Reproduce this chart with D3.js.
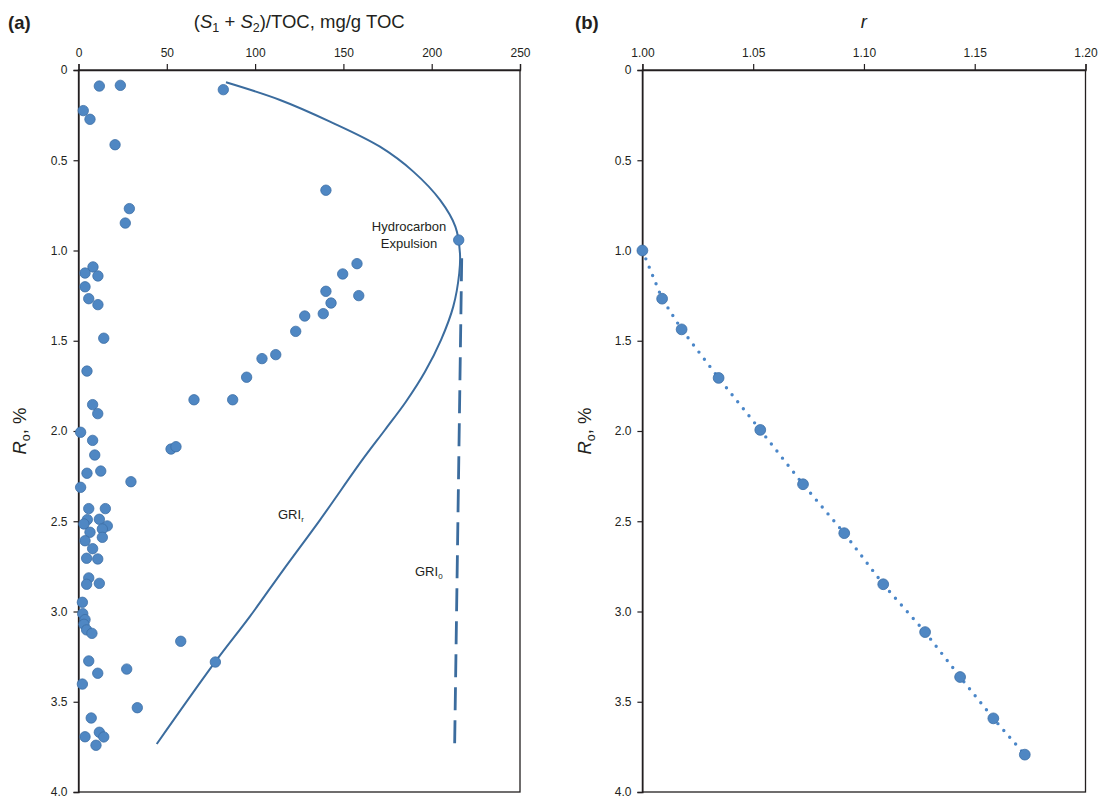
<!DOCTYPE html>
<html>
<head>
<meta charset="utf-8">
<script src="https://cdn.jsdelivr.net/npm/d3@7"></script>
<style>
  html, body { margin: 0; padding: 0; background: #fff; }
  svg { display: block; font-family: "Liberation Sans", Arial, sans-serif; }
</style>
</head>
<body>
<svg id="chart" width="1099" height="798"></svg>
<script>
// ---- Panel (a): (S1+S2)/TOC vs Ro ----
const hiX = [11.8, 23.7, 82.0, 2.7, 6.5, 20.7, 140.1, 28.8, 26.5, 215.3,
  8.2, 3.7, 11.0, 3.7, 5.8, 11.0, 14.3, 157.7, 149.6, 140.1,
  158.7, 143.0, 138.6, 128.1, 123.0, 111.7, 103.9, 95.2, 87.3, 65.4,
  4.8, 8.0, 10.9, 1.2, 8.0, 9.2, 4.8, 12.6, 1.2, 5.8,
  15.2, 5.0, 11.8, 3.1, 16.3, 6.5, 13.5, 13.5, 3.7, 8.0,
  4.6, 10.9, 5.8, 4.6, 11.8, 2.2, 52.4, 55.2, 29.7, 2.4,
  3.7, 3.1, 4.6, 7.6, 57.9, 5.8, 77.5, 10.9, 27.3, 2.2,
  33.3, 7.2, 3.7, 11.8, 14.3, 9.9];
const hiRo = [0.089, 0.085, 0.109, 0.225, 0.273, 0.414, 0.666, 0.768, 0.848, 0.942,
  1.091, 1.125, 1.141, 1.201, 1.267, 1.300, 1.486, 1.073, 1.130, 1.226,
  1.250, 1.291, 1.350, 1.363, 1.448, 1.577, 1.599, 1.702, 1.827, 1.827,
  1.668, 1.854, 1.904, 2.007, 2.052, 2.133, 2.234, 2.222, 2.312, 2.430,
  2.430, 2.491, 2.489, 2.515, 2.526, 2.561, 2.543, 2.589, 2.608, 2.652,
  2.705, 2.709, 2.814, 2.849, 2.844, 2.949, 2.100, 2.087, 2.281, 3.012,
  3.045, 3.071, 3.102, 3.121, 3.165, 3.274, 3.280, 3.342, 3.319, 3.402,
  3.533, 3.590, 3.694, 3.669, 3.695, 3.741];

// GRI_r trend curve (x, Ro)
const griRX = [83.5, 114.1, 142.4, 170.7, 189.6, 204.7, 213.4, 216.0, 215.6, 212.2,
  205.3, 196.2, 185.4, 173.6, 160.8, 136.8, 116.0, 97.1, 77.5, 44.3];
const griRRo = [0.068, 0.166, 0.286, 0.425, 0.563, 0.720, 0.868, 1.015, 1.126, 1.311,
  1.495, 1.672, 1.838, 1.993, 2.159, 2.492, 2.769, 3.027, 3.278, 3.734];

// GRI_0 line (x, Ro)
const gri0X = [217.0, 213.0];
const gri0Ro = [1.043, 3.734];

const xTicksA = [0, 50, 100, 150, 200, 250];

// ---- Panel (b): r vs Ro ----
const rVals = [1.0000, 1.0089, 1.0177, 1.0344, 1.0532, 1.0725, 1.0911, 1.1087, 1.1276, 1.1434, 1.1584, 1.1726];
const rRo = [1.00, 1.267, 1.437, 1.706, 1.994, 2.295, 2.566, 2.849, 3.114, 3.363, 3.592, 3.793];
const xTicksB = [1.00, 1.05, 1.10, 1.15, 1.20];

const yTicks = [0, 0.5, 1.0, 1.5, 2.0, 2.5, 3.0, 3.5, 4.0];

// ---- styling ----
const ink = "#231f20";
const dotFill = "#4f87c3";
const dotStroke = "#3c6ea6";
const lineCol = "#3b6c9e";
const titleSize = 18.5;

const svg = d3.select("#chart");

const plotTop = 70, plotBottom = 792;
const y = d3.scaleLinear().domain([0, 4]).range([plotTop, plotBottom]);
const xA = d3.scaleLinear().domain([0, 250]).range([78.5, 520]);
const xB = d3.scaleLinear().domain([1.0, 1.2]).range([642.4, 1085.5]);

const yFmt = d => d === 0 ? "0" : d3.format(".1f")(d);

function axes(x, xTicks, xFmt) {
  const [x0, x1] = x.range();
  // plot box
  svg.append("rect")
    .attr("x", x0).attr("y", plotTop)
    .attr("width", x1 - x0).attr("height", plotBottom - plotTop)
    .attr("fill", "none").attr("stroke", ink).attr("stroke-width", 1.3);

  const gx = svg.append("g").attr("transform", `translate(0,${plotTop})`)
    .call(d3.axisTop(x).tickValues(xTicks).tickFormat(xFmt).tickSize(6).tickPadding(7));
  const gy = svg.append("g").attr("transform", `translate(${x0},0)`)
    .call(d3.axisLeft(y).tickValues(yTicks).tickFormat(yFmt).tickSize(5).tickPadding(6));
  [gx, gy].forEach(g => {
    g.select(".domain").attr("stroke", ink).attr("stroke-width", 1.3);
    g.selectAll(".tick line").attr("stroke", ink).attr("stroke-width", 1.2);
    g.selectAll(".tick text").attr("fill", ink)
      .attr("font-size", 12).attr("font-family", "Liberation Sans, Arial, sans-serif");
  });
}

function yLabel(xPos) {
  const t = svg.append("text")
    .attr("transform", `translate(${xPos},${(plotTop + plotBottom) / 2}) rotate(-90)`)
    .attr("text-anchor", "middle").attr("font-size", titleSize).attr("fill", ink);
  t.append("tspan").attr("font-style", "italic").text("R");
  t.append("tspan").attr("font-size", 12.5).attr("dy", 4).text("o");
  t.append("tspan").attr("dy", -4).text(", %");
}

// ===== Panel (a) =====
axes(xA, xTicksA, d3.format("d"));

svg.append("text").attr("x", 8).attr("y", 29)
  .attr("font-size", titleSize).attr("font-weight", "bold").attr("fill", ink).text("(a)");

{
  const t = svg.append("text").attr("x", (78.5 + 520) / 2).attr("y", 28)
    .attr("text-anchor", "middle").attr("font-size", titleSize).attr("fill", ink);
  t.append("tspan").text("(");
  t.append("tspan").attr("font-style", "italic").text("S");
  t.append("tspan").attr("font-size", 12.5).attr("dy", 4).text("1");
  t.append("tspan").attr("dy", -4).text(" + ");
  t.append("tspan").attr("font-style", "italic").text("S");
  t.append("tspan").attr("font-size", 12.5).attr("dy", 4).text("2");
  t.append("tspan").attr("dy", -4).text(")/TOC, mg/g TOC");
}
yLabel(26);

// GRI_r curve
const griR = griRX.map((v, i) => [v, griRRo[i]]);
svg.append("path")
  .datum(griR)
  .attr("d", d3.line().x(d => xA(d[0])).y(d => y(d[1])).curve(d3.curveCatmullRom.alpha(0.5)))
  .attr("fill", "none").attr("stroke", lineCol).attr("stroke-width", 2);

// GRI_0 dashed line
const gri0 = gri0X.map((v, i) => [v, gri0Ro[i]]);
svg.append("path")
  .datum(gri0)
  .attr("d", d3.line().x(d => xA(d[0])).y(d => y(d[1])))
  .attr("fill", "none").attr("stroke", lineCol).attr("stroke-width", 2.8)
  .attr("stroke-dasharray", "23 10");

// sample points
svg.append("g").selectAll("circle")
  .data(hiX.map((v, i) => [v, hiRo[i]]))
  .join("circle")
  .attr("cx", d => xA(d[0])).attr("cy", d => y(d[1])).attr("r", 5.2)
  .attr("fill", dotFill).attr("stroke", dotStroke).attr("stroke-width", 0.8);

// annotations
svg.append("text").attr("x", 409).attr("y", 231).attr("text-anchor", "middle")
  .attr("font-size", 13).attr("fill", ink).text("Hydrocarbon");
svg.append("text").attr("x", 409).attr("y", 247.5).attr("text-anchor", "middle")
  .attr("font-size", 13).attr("fill", ink).text("Expulsion");
{
  const t = svg.append("text").attr("x", 278).attr("y", 519).attr("font-size", 13).attr("fill", ink);
  t.append("tspan").text("GRI");
  t.append("tspan").attr("font-size", 8).attr("dy", 3).text("r");
}
{
  const t = svg.append("text").attr("x", 415).attr("y", 576).attr("font-size", 13).attr("fill", ink);
  t.append("tspan").text("GRI");
  t.append("tspan").attr("font-size", 8).attr("dy", 3).text("0");
}

// ===== Panel (b) =====
axes(xB, xTicksB, d3.format(".2f"));

svg.append("text").attr("x", 575).attr("y", 29)
  .attr("font-size", titleSize).attr("font-weight", "bold").attr("fill", ink).text("(b)");
svg.append("text").attr("x", (642.4 + 1085.5) / 2).attr("y", 28)
  .attr("text-anchor", "middle").attr("font-size", titleSize).attr("font-style", "italic")
  .attr("fill", ink).text("r");
yLabel(591);

const rPts = rVals.map((v, i) => [v, rRo[i]]);
svg.append("path")
  .datum(rPts)
  .attr("d", d3.line().x(d => xB(d[0])).y(d => y(d[1])))
  .attr("fill", "none").attr("stroke", "#4a86c8").attr("stroke-width", 3.4)
  .attr("stroke-linecap", "round").attr("stroke-dasharray", "0 9");

svg.append("g").selectAll("circle")
  .data(rPts)
  .join("circle")
  .attr("cx", d => xB(d[0])).attr("cy", d => y(d[1])).attr("r", 5.4)
  .attr("fill", dotFill).attr("stroke", dotStroke).attr("stroke-width", 0.8);
</script>
</body>
</html>
